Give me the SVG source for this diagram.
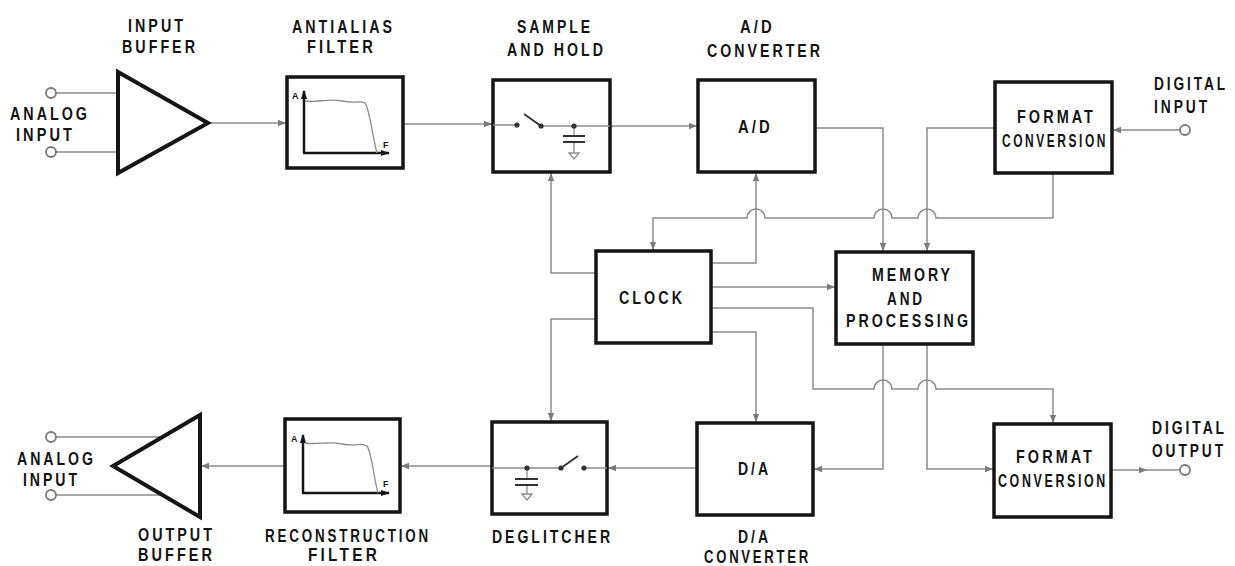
<svg xmlns="http://www.w3.org/2000/svg" width="1235" height="566" viewBox="0 0 1235 566">
<defs>
<style>
.t{font-family:"Liberation Sans",Arial,sans-serif;font-weight:bold;font-size:19px;letter-spacing:4px;fill:#151515}
.s{font-family:"Liberation Sans",Arial,sans-serif;font-weight:bold;font-size:9px;fill:#151515}
.box{fill:#fff;stroke:#151515;stroke-width:3.5}
.tri{fill:#fff;stroke:#151515;stroke-width:4;stroke-linejoin:miter}
.c{fill:none;stroke:#8c8c8c;stroke-width:1.5}
.w{fill:none;stroke:#8c8c8c;stroke-width:1.3}
.term{fill:#fff;stroke:#7a7a7a;stroke-width:1.8}
.ax{fill:none;stroke:#151515;stroke-width:2.5}
.crv{fill:none;stroke:#8c8c8c;stroke-width:1.3}
.dot{fill:#303030}
.blk{fill:none;stroke:#303030;stroke-width:1.8}
</style>
<marker id="ah" viewBox="0 0 10 10" refX="10" refY="5" markerWidth="8" markerHeight="8" markerUnits="userSpaceOnUse" orient="auto">
<path d="M0,1 L10,5 L0,9 z" fill="#7a7a7a"/>
</marker>
<marker id="axh" viewBox="0 0 10 10" refX="9" refY="5" markerWidth="9" markerHeight="9" markerUnits="userSpaceOnUse" orient="auto">
<path d="M0,1.5 L10,5 L0,8.5 z" fill="#151515"/>
</marker>
</defs>
<rect width="1235" height="566" fill="#fff"/>

<g id="connectors">
<path class="c" d="M56,93 H118 M56,152 H118"/>
<path class="c" d="M208,123 H286" marker-end="url(#ah)"/>
<path class="c" d="M403,124 H492" marker-end="url(#ah)"/>
<path class="c" d="M610,126 H697" marker-end="url(#ah)"/>
<path class="c" d="M815,128 H883 V251" marker-end="url(#ah)"/>
<path class="c" d="M995,128 H927 V251" marker-end="url(#ah)"/>
<path class="c" d="M1180,130 H1113" marker-end="url(#ah)"/>
<path class="c" d="M1053,173 V218 H936 A9,9 0 0 0 918,218 H892 A9,9 0 0 0 874,218 H765 A9,9 0 0 0 747,218 H653 V250" marker-end="url(#ah)"/>
<path class="c" d="M711,263 H756 V173" marker-end="url(#ah)"/>
<path class="c" d="M596,273 H551 V173" marker-end="url(#ah)"/>
<path class="c" d="M711,287 H835" marker-end="url(#ah)"/>
<path class="c" d="M711,308 H813 V389 H874 A9,9 0 0 1 892,389 H918 A9,9 0 0 1 936,389 H1053 V423" marker-end="url(#ah)"/>
<path class="c" d="M711,332 H756 V422" marker-end="url(#ah)"/>
<path class="c" d="M596,319 H551 V421" marker-end="url(#ah)"/>
<path class="c" d="M883,344 V469 H814" marker-end="url(#ah)"/>
<path class="c" d="M927,344 V469 H993" marker-end="url(#ah)"/>
<path class="c" d="M1111,470 H1147" marker-end="url(#ah)"/>
<path class="c" d="M1145,470 H1180"/>
<path class="c" d="M697,468 H608" marker-end="url(#ah)"/>
<path class="c" d="M492,466 H401" marker-end="url(#ah)"/>
<path class="c" d="M285,466 H201" marker-end="url(#ah)"/>
<path class="c" d="M56,437 H162 M56,495 H162"/>
</g>

<g id="analog-input">
<circle class="term" cx="51" cy="93" r="5"/>
<circle class="term" cx="51" cy="152" r="5"/>
<text class="t" x="10" y="120" textLength="80" lengthAdjust="spacingAndGlyphs">ANALOG</text>
<text class="t" x="16" y="141" textLength="59" lengthAdjust="spacingAndGlyphs">INPUT</text>
</g>

<g id="input-buffer">
<path class="tri" d="M118,72 L208,123 L118,173 Z"/>
<text class="t" x="128" y="32" textLength="58" lengthAdjust="spacingAndGlyphs">INPUT</text>
<text class="t" x="122" y="53" textLength="76" lengthAdjust="spacingAndGlyphs">BUFFER</text>
</g>

<g id="antialias-filter">
<rect class="box" x="287" y="77" width="116" height="91"/>
<path class="ax" d="M304,153 V91" marker-end="url(#axh)"/>
<path class="ax" d="M303,153 H389" marker-end="url(#axh)"/>
<path class="crv" d="M305,101 C318,103 328,98 342,101 S360,100 365,103 C370,110 373,140 377,153"/>
<text class="s" x="292" y="99">A</text>
<text class="s" x="383" y="148">F</text>
<text class="t" x="292" y="33" textLength="103" lengthAdjust="spacingAndGlyphs">ANTIALIAS</text>
<text class="t" x="307" y="53" textLength="69" lengthAdjust="spacingAndGlyphs">FILTER</text>
</g>

<g id="sample-hold">
<rect class="box" x="493" y="80" width="117" height="92"/>
<path class="w" d="M493,125 H517 M541,126 H610 M574,126 V136 M574,142 V152"/>
<path class="blk" d="M524,114 L541,126"/>
<path class="blk" d="M563,136 H585 M563,142 H585"/>
<path class="w" d="M569,153 H579 L574,159 Z"/>
<circle class="dot" cx="517" cy="125" r="2.6"/>
<circle class="dot" cx="541" cy="126" r="2.6"/>
<circle class="dot" cx="574" cy="126" r="2.6"/>
<text class="t" x="517" y="33" textLength="76" lengthAdjust="spacingAndGlyphs">SAMPLE</text>
<text class="t" x="507" y="56" textLength="99" lengthAdjust="spacingAndGlyphs">AND HOLD</text>
</g>

<g id="ad-converter">
<rect class="box" x="698" y="80" width="117" height="92"/>
<text class="t" x="738" y="133" textLength="35" lengthAdjust="spacingAndGlyphs">A/D</text>
<text class="t" x="740" y="33" textLength="35" lengthAdjust="spacingAndGlyphs">A/D</text>
<text class="t" x="707" y="57" textLength="116" lengthAdjust="spacingAndGlyphs">CONVERTER</text>
</g>

<g id="format-in">
<rect class="box" x="995" y="82" width="117" height="91"/>
<text class="t" x="1017" y="123" textLength="79" lengthAdjust="spacingAndGlyphs">FORMAT</text>
<text class="t" x="1002" y="147" textLength="106" lengthAdjust="spacingAndGlyphs">CONVERSION</text>
</g>

<g id="digital-input">
<circle class="term" cx="1185" cy="130" r="5"/>
<text class="t" x="1154" y="90" textLength="74" lengthAdjust="spacingAndGlyphs">DIGITAL</text>
<text class="t" x="1154" y="113" textLength="56" lengthAdjust="spacingAndGlyphs">INPUT</text>
</g>

<g id="clock">
<rect class="box" x="596" y="251" width="115" height="92"/>
<text class="t" x="619" y="304" textLength="66" lengthAdjust="spacingAndGlyphs">CLOCK</text>
</g>

<g id="memory">
<rect class="box" x="836" y="252" width="137" height="92"/>
<text class="t" x="872" y="281" textLength="81" lengthAdjust="spacingAndGlyphs">MEMORY</text>
<text class="t" x="887" y="305" textLength="38" lengthAdjust="spacingAndGlyphs">AND</text>
<text class="t" x="846" y="327" textLength="125" lengthAdjust="spacingAndGlyphs">PROCESSING</text>
</g>

<g id="format-out">
<rect class="box" x="994" y="424" width="117" height="93"/>
<text class="t" x="1016" y="463" textLength="79" lengthAdjust="spacingAndGlyphs">FORMAT</text>
<text class="t" x="998" y="487" textLength="110" lengthAdjust="spacingAndGlyphs">CONVERSION</text>
</g>

<g id="digital-output">
<circle class="term" cx="1185" cy="470" r="5"/>
<text class="t" x="1152" y="434" textLength="75" lengthAdjust="spacingAndGlyphs">DIGITAL</text>
<text class="t" x="1152" y="457" textLength="74" lengthAdjust="spacingAndGlyphs">OUTPUT</text>
</g>

<g id="da-converter">
<rect class="box" x="697" y="423" width="116" height="92"/>
<text class="t" x="738" y="475" textLength="33" lengthAdjust="spacingAndGlyphs">D/A</text>
<text class="t" x="738" y="543" textLength="33" lengthAdjust="spacingAndGlyphs">D/A</text>
<text class="t" x="704" y="563" textLength="107" lengthAdjust="spacingAndGlyphs">CONVERTER</text>
</g>

<g id="deglitcher">
<rect class="box" x="492" y="422" width="115" height="92"/>
<path class="w" d="M492,468 H561 M584,468 H607 M527,468 V479 M527,485 V494"/>
<path class="blk" d="M561,468 L578,456"/>
<path class="blk" d="M515,479 H538 M515,485 H538"/>
<path class="w" d="M522,494 H532 L527,500 Z"/>
<circle class="dot" cx="527" cy="468" r="2.6"/>
<circle class="dot" cx="561" cy="468" r="2.6"/>
<circle class="dot" cx="584" cy="468" r="2.6"/>
<text class="t" x="492" y="543" textLength="121" lengthAdjust="spacingAndGlyphs">DEGLITCHER</text>
</g>

<g id="reconstruction-filter">
<rect class="box" x="285" y="419" width="115" height="93"/>
<path class="ax" d="M303,493 V435" marker-end="url(#axh)"/>
<path class="ax" d="M302,493 H389" marker-end="url(#axh)"/>
<path class="crv" d="M305,443 C318,445 328,441 342,444 S361,442 367,446 C372,453 374,480 378,493"/>
<text class="s" x="291" y="442">A</text>
<text class="s" x="383" y="487">F</text>
<text class="t" x="265" y="542" textLength="166" lengthAdjust="spacingAndGlyphs">RECONSTRUCTION</text>
<text class="t" x="308" y="561" textLength="72" lengthAdjust="spacingAndGlyphs">FILTER</text>
</g>

<g id="output-buffer">
<path class="tri" d="M200,415 L113,466 L200,517 Z"/>
<text class="t" x="138" y="541" textLength="77" lengthAdjust="spacingAndGlyphs">OUTPUT</text>
<text class="t" x="138" y="561" textLength="77" lengthAdjust="spacingAndGlyphs">BUFFER</text>
</g>

<g id="analog-output">
<circle class="term" cx="51" cy="437" r="5"/>
<circle class="term" cx="51" cy="495" r="5"/>
<text class="t" x="17" y="465" textLength="79" lengthAdjust="spacingAndGlyphs">ANALOG</text>
<text class="t" x="23" y="486" textLength="57" lengthAdjust="spacingAndGlyphs">INPUT</text>
</g>
</svg>
